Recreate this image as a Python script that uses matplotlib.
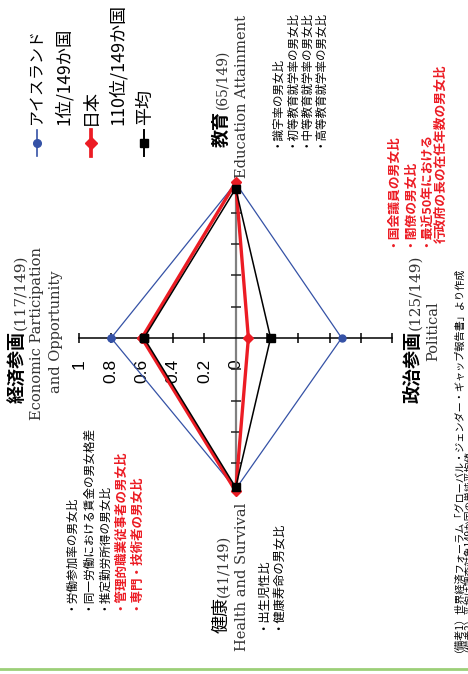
import matplotlib
matplotlib.use("Agg")
import matplotlib.pyplot as plt
from matplotlib.lines import Line2D

# ---------------- data ----------------
axes_order = ["econ", "edu", "pol", "health"]          # drawing order round the radar
cat_jp = {"econ": "経済参画", "edu": "教育", "health": "健康", "pol": "政治参画"}
cat_rank = {"econ": "(117/149)", "edu": "(65/149)", "health": "(41/149)", "pol": "(125/149)"}
cat_en = {"econ": ["Economic Participation", "and Opportunity"],
          "edu": ["Education Attainment"],
          "health": ["Health and Survival"],
          "pol": ["Political"]}

iceland = {"econ": 0.796, "edu": 0.99, "pol": 0.677, "health": 0.965}
japan = {"econ": 0.600, "edu": 0.994, "pol": 0.081, "health": 0.979}
average = {"econ": 0.586, "edu": 0.955, "pol": 0.223, "health": 0.955}

tick_values = [1, 0.8, 0.6, 0.4, 0.2, 0]
tick_labels = ["1", "0.8", "0.6", "0.4", "0.2", "0"]

legend_names = ["アイスランド", "日本", "平均"]
legend_ranks = ["1位/149か国", "110位/149か国", ""]

econ_items = ["・労働参加率の男女比", "・同一労働における賃金の男女格差", "・推定勤労所得の男女比",
              "・管理的職業従事者の男女比", "・専門・技術者の男女比"]
econ_red = [False, False, False, True, True]
edu_items = ["・識字率の男女比", "・初等教育就学率の男女比", "・中等教育就学率の男女比", "・高等教育就学率の男女比"]
health_items = ["・出生児性比", "・健康寿命の男女比"]
pol_items = ["・国会議員の男女比", "・閣僚の男女比", "・最近50年における", "行政府の長の在任年数の男女比"]
notes = ["（備考1）世界経済フォーラム「グローバル・ジェンダー・ギャップ報告書」より作成",
         "（備考2）平均は調査対象149か国の単純平均値"]

# ---------------- layout ----------------
W, H = 468, 674
fig = plt.figure(figsize=(W / 100, H / 100), dpi=100)
ax = fig.add_axes([0, 0, 1, 1])
CX, CY, R = 235.7, 338.0, 156.5
ax.set_xlim(-CX / R, (W - CX) / R)
ax.set_ylim((CY - H) / R, CY / R)
ax.axis("off")

direction = {"econ": (-1, 0), "edu": (0, 1), "pol": (1, 0), "health": (0, -1)}

JP = ["Noto Sans CJK JP", "DejaVu Sans"]
SERIF = ["DejaVu Serif"]
SANS = ["Liberation Sans", "DejaVu Sans"]
RED = "#ec1c24"
BLUE = "#3552a6"


def T(x, y, s, size, ha="left", va="center", family=JP, weight="normal", color="black", z=5):
    fig.text(x / W, 1 - y / H, s, rotation=90, rotation_mode="anchor", ha=ha, va=va,
             fontsize=size, family=family, fontweight=weight, color=color, zorder=z)


# axes lines
ax.plot([0, 0], [-1, 1], color="#808080", lw=1.6, zorder=1)
ax.plot([-1, 1], [0, 0], color="black", lw=1.1, zorder=1)
hx = [s * v for v in tick_values if v > 0 for s in (-1, 1)]
ax.plot(hx, [0] * len(hx), ls="none", marker="|", ms=7.5, mew=1.1, color="black", zorder=1)
vy = [s * v for v in tick_values if 0 < v < 1 for s in (-1, 1)]
ax.plot([0] * len(vy), vy, ls="none", marker="_", ms=7.5, mew=1.1, color="#222222", zorder=1)

# tick labels along the economic axis
for v, lab in zip(tick_values, tick_labels):
    ax.text(-v, (CY - 359) / R, lab, rotation=90, rotation_mode="anchor", ha="right",
            va="center", fontsize=12.5, family=SANS, color="black", zorder=0)


def poly(vals):
    xs, ys = [], []
    for k in axes_order + axes_order[:1]:
        dx, dy = direction[k]
        xs.append(dx * vals[k])
        ys.append(dy * vals[k])
    return xs, ys


styles = [
    (iceland, dict(color=BLUE, lw=0.9, marker="o", ms=5, zorder=3)),
    (japan, dict(color=RED, lw=2.4, marker="D", ms=5.5, zorder=4)),
    (average, dict(color="black", lw=1.1, marker="s", ms=5.5, zorder=5)),
]
for vals, st in styles:
    xs, ys = poly(vals)
    ax.plot(xs, ys, **st)

# legend
leg_x = [36.5, 90.5, 144]
leg_style = [styles[0][1], styles[1][1], styles[2][1]]
for lx, st in zip(leg_x, leg_style):
    fig.add_artist(Line2D([lx / W, lx / W], [1 - 130 / H, 1 - 156 / H], transform=fig.transFigure,
                          color=st["color"], lw=st["lw"] + 0.3))
    fig.add_artist(Line2D([lx / W], [1 - 143 / H], transform=fig.transFigure, color=st["color"],
                          marker=st["marker"], ms=st["ms"] + 0.5, ls="none"))
T(36.5, 125, legend_names[0], 11.5)
T(63.5, 125, legend_ranks[0], 12.5)
T(91, 125, legend_names[1], 13)
T(117.5, 125, legend_ranks[1], 13)
T(145, 125, legend_names[2], 13)

# category labels
EN_COL = "#333333"
T(18.5, 403, cat_jp["econ"], 13, weight="bold")
T(20.5, 330, cat_rank["econ"], 11, family=SERIF, color=EN_COL)
T(37.5, 333, cat_en["econ"][0], 10.5, ha="center", family=SERIF, color=EN_COL)
T(56, 332, cat_en["econ"][1], 10.5, ha="center", family=SERIF, color=EN_COL)

T(221, 147, cat_jp["edu"], 13, weight="bold")
T(223, 109, cat_rank["edu"], 10, family=SERIF, color=EN_COL)
T(241.5, 96.5, cat_en["edu"][0], 10.5, ha="center", family=SERIF, color=EN_COL)

T(413, 403, cat_jp["pol"], 13, weight="bold")
T(415, 330, cat_rank["pol"], 11, family=SERIF, color=EN_COL)
T(433, 331, cat_en["pol"][0], 10.5, ha="center", family=SERIF, color=EN_COL)

T(222, 633, cat_jp["health"], 13)
T(224, 597, cat_rank["health"], 10.5, family=SERIF, color=EN_COL)
T(241.5, 577, cat_en["health"][0], 10.5, ha="center", family=SERIF, color=EN_COL)

# item lists
for x, s, red in zip([69, 85.5, 102, 117.5, 133.5], econ_items, econ_red):
    if red:
        T(x, 610, s, 9, weight="bold", color=RED)
    else:
        T(x, 610, s, 8.4)
for x, s in zip([275, 289.5, 303.5, 318], edu_items):
    T(x, 147, s, 8.3)
for x, s in zip([261, 276], health_items):
    T(x, 630, s, 8.8)
for x, y, s in zip([391, 408, 424.5, 441], [247, 247, 247, 243], pol_items):
    T(x, y, s, 9.2, weight="bold", color=RED)

# notes
T(453.5, 652, notes[0], 7.3)
T(463.5, 652, notes[1], 7.0)

# bottom green rule
fig.add_artist(Line2D([0, 1], [1 - 669 / H, 1 - 669 / H], transform=fig.transFigure,
                      color="#9ccf78", lw=2.0))

fig.savefig("out.png", dpi=100, facecolor="white")
